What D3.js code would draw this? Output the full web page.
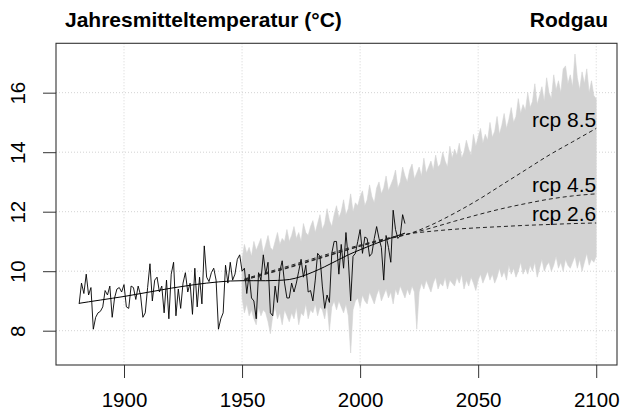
<!DOCTYPE html>
<html><head><meta charset="utf-8">
<script src="https://cdn.jsdelivr.net/npm/d3@7"></script>
<style>body{margin:0;background:#fff} svg{display:block} text{font-family:"Liberation Sans",Arial,sans-serif}</style>
</head><body>
<svg id="c" width="621" height="418"></svg>
<script>
// ---------- data ----------
const obsStart = 1881;
const observed = [
 8.9, 9.6, 9.25, 9.9, 9.2, 9.45, 8.05, 8.45, 8.6, 8.65,           // 1881-1890
 8.8, 9.35, 9.2, 9.5, 8.45, 9.1, 9.4, 9.45, 9.3, 9.55,            // 1891-1900
 8.8, 8.75, 9.5, 9.45, 9.05, 9.5, 9.2, 8.45, 8.6, 9.45,           // 1901-1910
 10.25, 9.0, 9.7, 9.8, 9.3, 9.5, 8.6, 9.7, 8.4, 9.9,              // 1911-1920
 10.3, 8.5, 9.4, 8.75, 9.6, 9.95, 9.3, 9.6, 8.55, 10.1,           // 1921-1930
 8.8, 9.8, 8.9, 10.85, 9.8, 9.65, 9.95, 10.1, 9.7, 8.05,          // 1931-1940
 8.4, 8.6, 10.2, 9.6, 10.3, 9.7, 9.9, 10.4, 10.55, 10.0,          // 1941-1950
 10.1, 9.25, 9.9, 9.1, 9.0, 8.4, 9.95, 9.7, 10.55, 9.9,           // 1951-1960
 10.3, 8.6, 8.5, 9.5, 8.95, 10.0, 10.35, 9.6, 9.1, 9.1,           // 1961-1970
 9.6, 9.3, 9.6, 10.0, 10.4, 9.8, 10.2, 9.3, 9.35, 9.0,            // 1971-1980
 9.7, 10.6, 10.5, 9.5, 8.75, 9.2, 8.95, 10.6, 11.0, 11.0,         // 1981-1990
 9.9, 10.9, 10.1, 11.3, 10.4, 9.0, 10.5, 10.6, 11.0, 11.4,        // 1991-2000
 10.6, 11.15, 11.1, 10.5, 10.6, 11.1, 11.5, 11.1, 10.8, 9.7,      // 2001-2010
 11.2, 10.8, 10.3, 12.05, 11.4, 11.1, 11.2, 11.9, 11.6            // 2011-2019
];
const smoothYears  = [1881,1885,1890,1895,1900,1905,1910,1915,1920,1925,1930,1935,1940,1945,1950,1955,1960,1965,1970,1975,1980,1985,1990,1995,2000,2005,2010,2015,2019];
const smoothValues = [8.92,8.97,9.03,9.09,9.15,9.22,9.29,9.36,9.43,9.49,9.55,9.6,9.64,9.67,9.68,9.68,9.68,9.69,9.72,9.82,9.97,10.15,10.35,10.55,10.72,10.88,11.03,11.17,11.28];

const rcpYears = [1951,1960,1970,1980,1990,2000,2010,2020,2030,2040,2050,2060,2070,2080,2090,2100];
const rcp26 = [9.74,9.95,10.18,10.42,10.66,10.88,11.08,11.25,11.34,11.41,11.46,11.5,11.54,11.57,11.6,11.62];
const rcp45 = [9.72,9.92,10.14,10.38,10.62,10.85,11.06,11.24,11.45,11.68,11.9,12.1,12.27,12.42,12.53,12.6];
const rcp85 = [9.70,9.9,10.12,10.36,10.6,10.84,11.05,11.24,11.55,11.95,12.4,12.9,13.4,13.9,14.35,14.8];
const rcpLabels = ["rcp 2.6","rcp 4.5","rcp 8.5"];

const ensStart = 1950; // yearly to 2100
const ensUpper = [
 10.4,10.9,10.6,10.8,10.5,11.0,10.7,10.9,11.1,10.6,   // 1950s
 10.9,11.2,10.8,10.7,11.0,11.3,10.9,11.1,11.0,11.4,   // 1960s
 11.0,11.2,11.5,11.1,11.3,11.0,11.6,11.3,11.2,11.5,   // 1970s
 11.7,11.3,11.6,11.9,11.4,11.6,12.1,11.7,11.5,11.9,   // 1980s
 12.2,11.8,12.0,12.4,11.9,12.1,12.6,12.0,12.3,12.2,   // 1990s
 12.5,12.7,12.2,12.4,12.9,12.5,12.3,12.8,13.0,12.6,   // 2000s
 12.8,13.2,12.7,12.9,13.1,13.4,12.8,13.0,13.5,13.2,   // 2010s
 13.0,13.4,13.6,13.1,13.3,13.5,13.2,13.8,13.3,13.5,   // 2020s
 13.7,13.4,13.9,13.5,13.6,14.0,13.7,13.5,14.2,13.8,   // 2030s
 14.1,13.9,14.3,13.8,14.0,14.4,14.1,13.9,14.6,14.2,   // 2040s
 14.5,14.8,14.3,14.6,14.4,15.0,14.5,14.7,15.2,14.6,   // 2050s
 14.9,15.3,14.8,15.1,15.5,15.0,15.2,15.8,15.3,15.6,   // 2060s
 15.4,16.0,15.5,15.7,16.3,15.6,15.9,16.2,15.7,16.5,   // 2070s
 16.0,15.8,16.6,16.1,16.4,16.0,16.8,16.9,16.3,16.6,   // 2080s
 16.2,17.3,16.5,16.1,16.7,16.3,16.8,16.0,16.4,15.9,   // 2090s
 15.8                                                 // 2100
];
const ensLower = [
 9.1,8.6,8.9,8.5,8.7,8.4,8.2,8.8,8.5,8.7,             // 1950s
 8.6,8.3,7.9,8.5,8.8,8.4,8.6,8.2,8.7,8.5,             // 1960s
 8.3,8.6,8.4,8.8,8.2,8.6,8.5,8.9,8.4,8.7,             // 1970s
 8.6,8.9,8.5,8.8,8.7,8.4,8.9,8.0,8.8,9.0,             // 1980s
 8.7,9.0,8.8,8.6,8.9,8.5,7.25,8.7,9.0,9.1,            // 1990s
 8.8,9.2,9.0,8.9,9.3,9.1,8.9,9.2,9.4,9.0,             // 2000s
 9.2,9.4,9.1,9.3,8.9,9.4,9.2,9.5,9.3,9.1,             // 2010s
 9.4,9.2,9.5,9.3,8.05,9.3,9.6,9.4,9.7,9.5,            // 2020s
 9.3,9.6,9.8,9.4,9.6,9.5,9.8,9.4,9.7,9.6,             // 2030s
 9.5,9.8,9.6,9.9,9.4,9.7,9.5,9.8,9.6,9.35,            // 2040s
 9.7,9.9,9.6,9.8,10.0,9.7,9.9,9.6,9.8,10.1,           // 2050s
 9.8,10.0,9.7,10.2,9.9,10.1,9.8,10.0,10.3,9.9,        // 2060s
 10.1,9.9,10.2,10.0,10.3,9.8,10.1,10.4,10.0,10.2,     // 2070s
 10.3,10.0,10.2,10.5,10.1,10.3,10.0,10.4,10.2,10.1,   // 2080s
 10.3,10.5,10.1,10.4,10.0,10.3,10.6,10.2,10.4,10.3,   // 2090s
 10.5                                                 // 2100
];
const xTicks = [1900,1950,2000,2050,2100];
const yTicks = [8,10,12,14,16];
const titleLeft = "Jahresmitteltemperatur (°C)";
const titleRight = "Rodgau";

// ---------- drawing ----------
const svg = d3.select("#c");
const L = 56, R = 617, T = 43.3, B = 365;
const x = d3.scaleLinear().domain([1871.2, 2108.8]).range([L, R]);
const y = d3.scaleLinear().domain([6.847, 17.66]).range([B, T]);

const obs = observed.map((v,i)=>({yr: obsStart+i, v}));
const smooth = smoothYears.map((yr,i)=>({yr, v: smoothValues[i]}));
const ens = ensUpper.map((u,i)=>({yr: ensStart+i, u, l: ensLower[i]}));

// grid
const g = svg.append("g");
g.selectAll(".gx").data(xTicks).join("line")
  .attr("x1",d=>x(d)).attr("x2",d=>x(d)).attr("y1",T).attr("y2",B)
  .attr("stroke","#d3d3d3").attr("stroke-dasharray","1,2");
g.selectAll(".gy").data(yTicks).join("line")
  .attr("y1",d=>y(d)).attr("y2",d=>y(d)).attr("x1",L).attr("x2",R)
  .attr("stroke","#d3d3d3").attr("stroke-dasharray","1,2");

// ensemble envelope
svg.append("path").datum(ens)
  .attr("d", d3.area().x(d=>x(d.yr)).y0(d=>y(d.l)).y1(d=>y(d.u)))
  .attr("fill","#d3d3d3").attr("stroke","#d3d3d3").attr("stroke-width",0.6);

// observed
svg.append("path").datum(obs)
  .attr("d", d3.line().x(d=>x(d.yr)).y(d=>y(d.v)))
  .attr("fill","none").attr("stroke","#000").attr("stroke-width",0.9);

// smooth trend
svg.append("path").datum(smooth)
  .attr("d", d3.line().curve(d3.curveMonotoneX).x(d=>x(d.yr)).y(d=>y(d.v)))
  .attr("fill","none").attr("stroke","#000").attr("stroke-width",1);

// rcp dashed lines
const rcps = [rcp26, rcp45, rcp85];
rcps.forEach((arr, k) => {
  const pts = rcpYears.map((yr,i)=>({yr, v: arr[i]}));
  svg.append("path").datum(pts)
    .attr("d", d3.line().curve(d3.curveMonotoneX).x(d=>x(d.yr)).y(d=>y(d.v)))
    .attr("fill","none").attr("stroke","#222").attr("stroke-width",1)
    .attr("stroke-dasharray","4,3");
  svg.append("text").attr("x", x(2100)).attr("y", y(arr[arr.length-1]) - 1.5)
    .attr("text-anchor","end").attr("font-size",21).attr("fill","#000")
    .text(rcpLabels[k]);
});

// box
svg.append("rect").attr("x",L).attr("y",T).attr("width",R-L).attr("height",B-T)
  .attr("fill","none").attr("stroke","#333").attr("stroke-width",1.1);

// axes
const xa = svg.append("g").attr("transform",`translate(0,${B})`)
  .call(d3.axisBottom(x).tickValues(xTicks).tickFormat(d3.format("d")).tickSize(13).tickPadding(14));
xa.select(".domain").remove();
xa.selectAll("line").attr("stroke","#333");
xa.selectAll("text").attr("font-size",20.5).attr("fill","#000")
  .attr("font-family",'"Liberation Sans",Arial,sans-serif');

const ya = svg.append("g").attr("transform",`translate(${L},0)`)
  .call(d3.axisLeft(y).tickValues(yTicks).tickSize(13).tickFormat(d3.format("d")));
ya.select(".domain").remove();
ya.selectAll("line").attr("stroke","#333");
ya.selectAll("text").remove();
ya.selectAll(".tick").append("text")
  .attr("transform","translate(-31,0) rotate(-90)")
  .attr("text-anchor","middle").attr("font-size",20.5).attr("fill","#000")
  .attr("font-family",'"Liberation Sans",Arial,sans-serif')
  .text(d=>d);

// titles
svg.append("text").attr("x",65).attr("y",27).attr("font-size",21).attr("font-weight","bold")
  .text(titleLeft);
svg.append("text").attr("x",608).attr("y",27).attr("text-anchor","end").attr("font-size",21).attr("font-weight","bold")
  .text(titleRight);
</script>
</body></html>
